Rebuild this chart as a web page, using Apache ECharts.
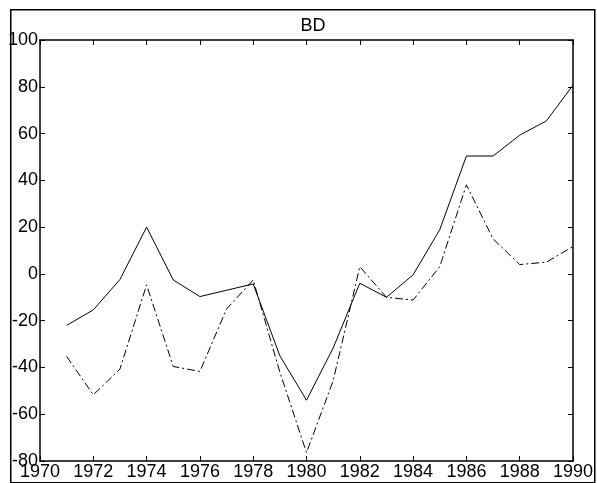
<!DOCTYPE html>
<html>
<head>
<meta charset="utf-8">
<script src="https://cdn.jsdelivr.net/npm/echarts@6/dist/echarts.min.js"></script>
<style>
  html, body { margin: 0; padding: 0; background: #fff; }
  #chart { width: 597px; height: 483px; }
</style>
</head>
<body>
<div id="chart"></div>
<script>
const years = [1971, 1972, 1973, 1974, 1975, 1976, 1977, 1978, 1979, 1980,
  1981, 1982, 1983, 1984, 1985, 1986, 1987, 1988, 1989, 1990]
const solidValues = [-22, -15.4, -2.4, 20, -2.6, -9.7, -7, -4.3, -35, -54,
  -31.7, -4, -10, -0.4, 18.9, 50.4, 50.4, 59.3, 65.4, 80.7]
const dashDotValues = [-35.3, -51.7, -40.7, -4.7, -39.6, -41.7, -15, -2.6, -42, -76.4,
  -45.7, 3.1, -10, -11.2, 3.1, 38.1, 15, 4, 5, 11.7]

const chart = echarts.init(document.getElementById('chart'))

const font = 'Liberation Sans, Arial, sans-serif'
const axisLine = { show: true, onZero: false, lineStyle: { color: '#000', width: 1.5 } }
const tick = { show: true, inside: true, length: 5, lineStyle: { color: '#000', width: 1 } }

const toPairs = vals => years.map((y, i) => [y, vals[i]])

chart.setOption({
  animation: false,
  backgroundColor: '#fff',
  title: {
    text: 'BD',
    left: 308,
    top: 12,
    textAlign: 'center',
    textStyle: { fontFamily: font, fontSize: 18, fontWeight: 'normal', color: '#000' }
  },
  grid: { left: 40, right: 24, top: 40, bottom: 22 },
  xAxis: [
    {
      type: 'value', min: 1970, max: 1990, interval: 2, position: 'bottom',
      axisLine, axisTick: tick, splitLine: { show: false },
      axisLabel: { color: '#000', fontFamily: font, fontSize: 18, margin: 2, formatter: v => String(v) }
    },
    {
      type: 'value', min: 1970, max: 1990, interval: 2, position: 'top',
      axisLine, axisTick: tick, splitLine: { show: false }, axisLabel: { show: false }
    }
  ],
  yAxis: [
    {
      type: 'value', min: -80, max: 100, interval: 20, position: 'left',
      axisLine, axisTick: tick, splitLine: { show: false },
      axisLabel: { color: '#000', fontFamily: font, fontSize: 18, margin: 2 }
    },
    {
      type: 'value', min: -80, max: 100, interval: 20, position: 'right',
      axisLine, axisTick: tick, splitLine: { show: false }, axisLabel: { show: false }
    }
  ],
  graphic: {
    elements: [{
      type: 'rect',
      left: 10,
      top: 9,
      shape: { width: 584, height: 473 },
      style: { fill: 'transparent', stroke: '#000', lineWidth: 1.5 },
      silent: true
    }]
  },
  series: [
    {
      name: 'solid', type: 'line', data: toPairs(solidValues),
      showSymbol: false, lineStyle: { color: '#000', width: 1 }
    },
    {
      name: 'dashdot', type: 'line', data: toPairs(dashDotValues),
      showSymbol: false, lineStyle: { color: '#000', width: 1, type: [8, 3, 2, 3] }
    }
  ]
})

window.addEventListener('resize', () => chart.resize())
</script>
</body>
</html>
